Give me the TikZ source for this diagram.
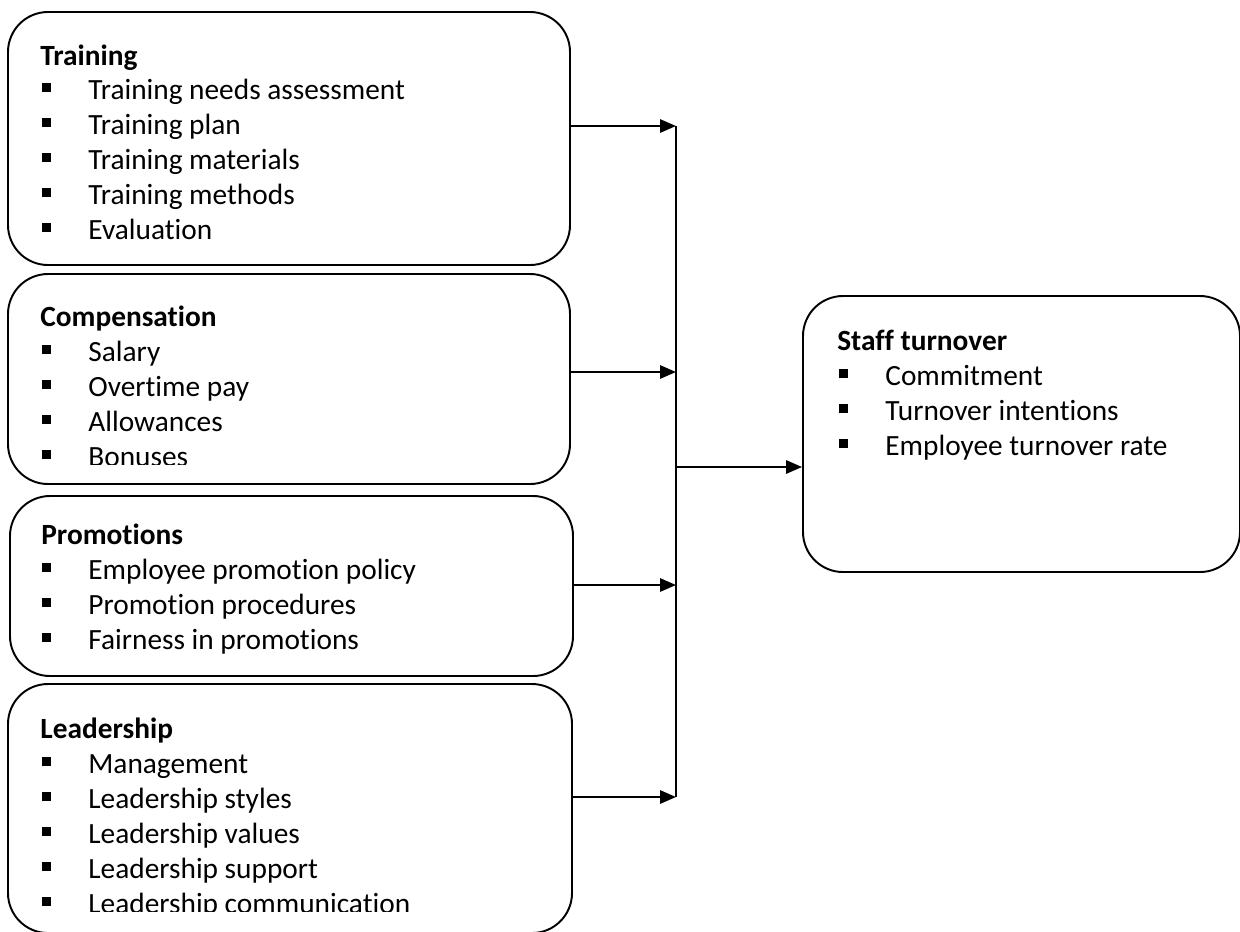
\documentclass[tikz,border=0pt]{standalone}
\usepackage{fontspec}
\setmainfont{Carlito}[Ligatures=NoCommon]
\usepackage{tikz}
\usetikzlibrary{arrows.meta,fit}
\definecolor{ink}{HTML}{000000}
\newcommand{\sqbul}{\rule[0.23em]{0.3em}{0.3em}}
\newcommand{\itm}[1]{\makebox[26.2pt][l]{\sqbul}#1}
\tikzset{
  box/.style={draw=ink, line width=1.1pt, rounded corners=0.8cm, inner sep=0pt},
  link/.style={draw=ink, line width=1.1pt},
  arr/.style={link, -{Triangle[length=9pt,width=7.5pt]}},
  head/.style={anchor=base west, inner sep=0pt, text=ink, font=\fontsize{16.7}{20}\selectfont\bfseries},
  item/.style={anchor=base west, inner sep=0pt, text=ink, font=\fontsize{16.7}{20}\selectfont},
}

\begin{document}
\begin{tikzpicture}[x=0.02cm, y=-0.02cm]
  \useasboundingbox (0,0) rectangle (1240,931);
  \clip (0,0) rectangle (1240,931);
  % boxes
  \node[box, fit={(8,12) (570,265)}] (train) {};
  \node[box, fit={(8,274) (570,484)}] (comp) {};
  \node[box, fit={(10,496) (573,676)}] (promo) {};
  \node[box, fit={(8,684) (572,933)}] (lead) {};
  \node[box, fit={(803,296) (1240,572)}] (staff) {};
  % texts
  \node[head] (trainH) at (40,65) {Training};
  \foreach \t [count=\i from 0] in {Training needs assessment, Training plan, Training materials, Training methods, Evaluation}
    \node[item] (train-\i) at (42,{99+35*\i}) {\itm{\t}};
  \node[head] (compH) at (40,326) {Compensation};
  \begin{scope}
    \clip (0,274) rectangle (570,464);
    \foreach \t [count=\i from 0] in {Salary, Overtime pay, Allowances, Bonuses}
      \node[item] (comp-\i) at (42,{361+35*\i}) {\itm{\t}};
  \end{scope}
  \node[head] (promoH) at (41,544) {Promotions};
  \foreach \t [count=\i from 0] in {Employee promotion policy, Promotion procedures, Fairness in promotions}
    \node[item] (promo-\i) at (42,{579+35*\i}) {\itm{\t}};
  \node[head] (leadH) at (40,738) {Leadership};
  \begin{scope}
    \clip (0,684) rectangle (572,911);
    \foreach \t [count=\i from 0] in {Management, Leadership styles, Leadership values, Leadership support, Leadership communication}
      \node[item] (lead-\i) at (42,{773+35*\i}) {\itm{\t}};
  \end{scope}
  \node[head] (staffH) at (837,350) {Staff turnover};
  \foreach \t [count=\i from 0] in {Commitment, Turnover intentions, Employee turnover rate}
    \node[item] (staff-\i) at (839,{385+35*\i}) {\itm{\t}};
  % connectors
  \coordinate (busT) at (676,126);
  \coordinate (tapC) at (676,372);
  \coordinate (tapS) at (676,467);
  \coordinate (tapP) at (676,585);
  \coordinate (busB) at (676,797);
  \draw[link] (busT) -- (busB);
  \draw[arr] (train.east |- busT) -- (busT);
  \draw[arr] (comp.east |- tapC) -- (tapC);
  \draw[arr] (promo.east |- tapP) -- (tapP);
  \draw[arr] (lead.east |- busB) -- (busB);
  \draw[arr] (tapS) -- (staff.west |- tapS);
\end{tikzpicture}
\end{document}
